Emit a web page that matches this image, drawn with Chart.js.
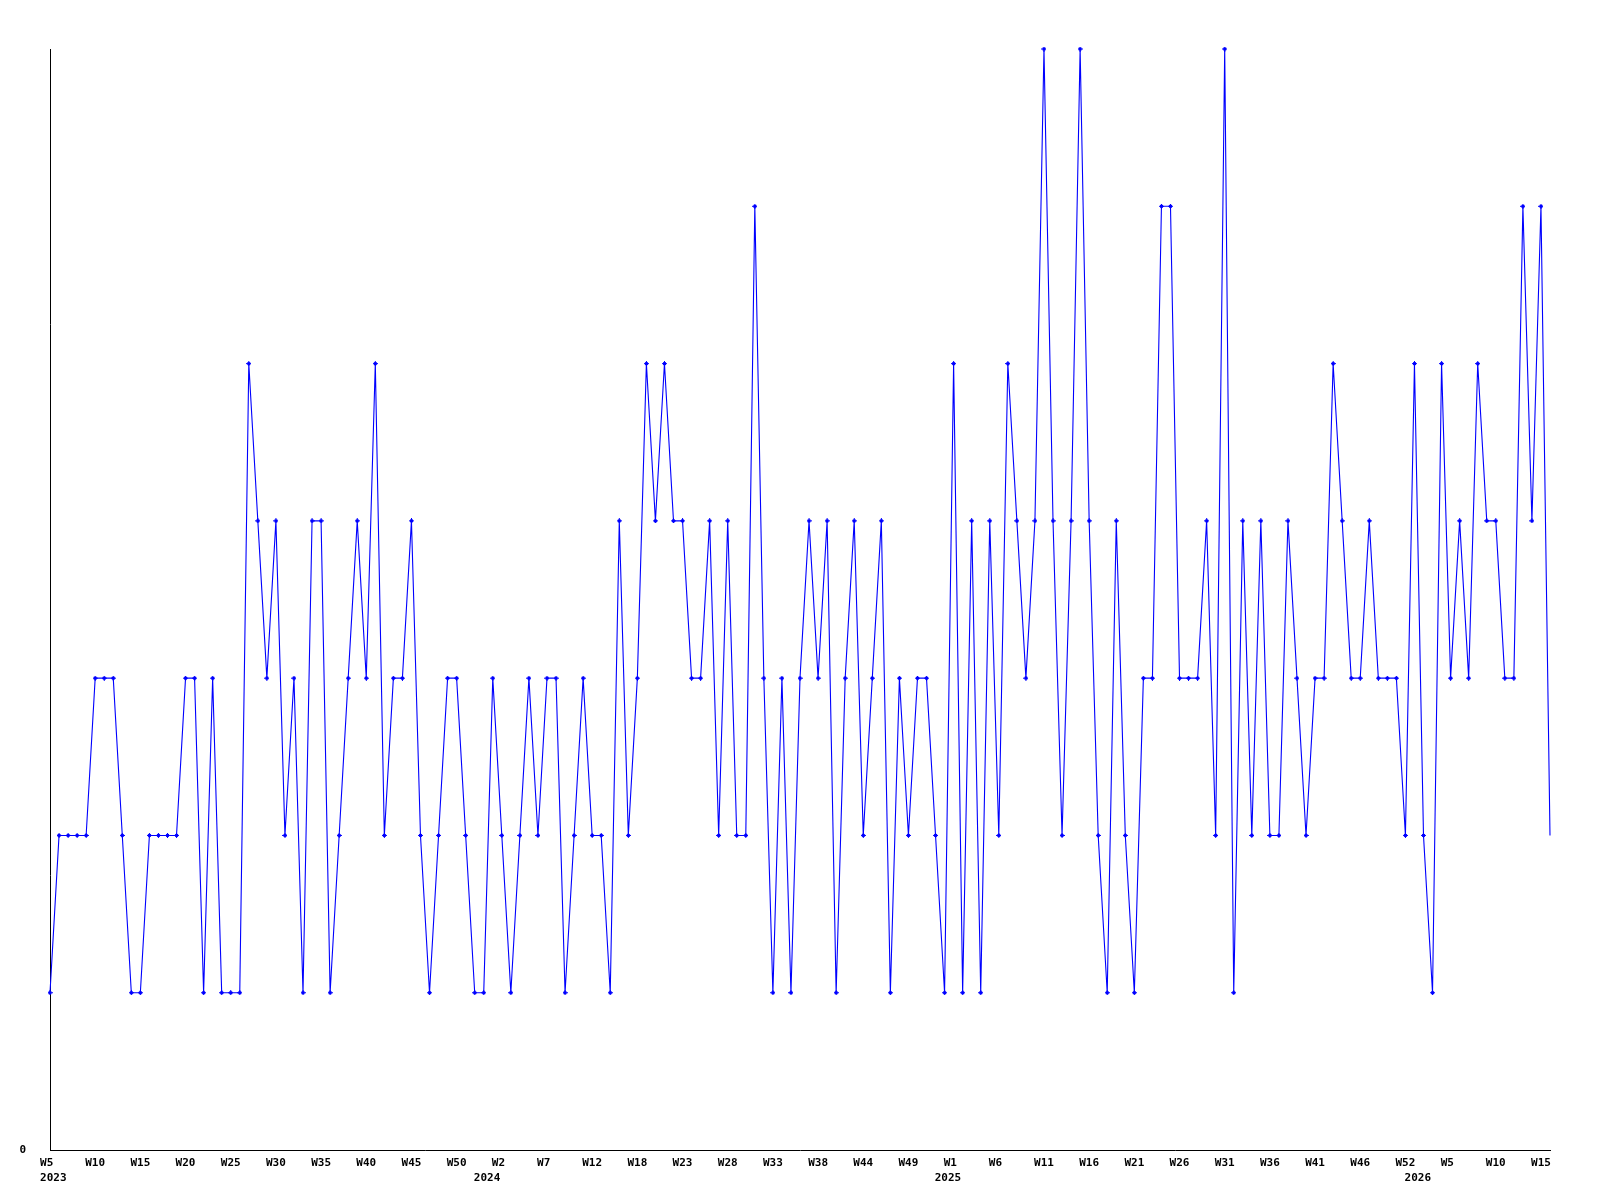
<!DOCTYPE html>
<html>
<head>
<meta charset="utf-8">
<script src="https://cdn.jsdelivr.net/npm/chart.js@4.4.1/dist/chart.umd.min.js"></script>
<style>
  html, body { margin: 0; padding: 0; background: #ffffff; }
  #wrap { width: 1600px; height: 1200px; position: relative; }
</style>
</head>
<body>
<div id="wrap"><canvas id="chart"></canvas></div>
<script>
// Weekly series, 2023 W5 .. 2026 W16 (one value per week)
const values = [
  1,2,2,2,2,3,3,3,2,1,
  1,2,2,2,2,3,3,1,3,1,
  1,1,5,4,3,4,2,3,1,4,
  4,1,2,3,4,3,5,2,3,3,
  4,2,1,2,3,3,2,1,1,3,
  2,1,2,3,2,3,3,1,2,3,
  2,2,1,4,2,3,5,4,5,4,
  4,3,3,4,2,4,2,2,6,3,
  1,3,1,3,4,3,4,1,3,4,
  2,3,4,1,3,2,3,3,2,1,
  5,1,4,1,4,2,5,4,3,4,
  7,4,2,4,7,4,2,1,4,2,
  1,3,3,6,6,3,3,3,4,2,
  7,1,4,2,4,2,2,4,3,2,
  3,3,5,4,3,3,4,3,3,3,
  2,5,2,1,5,3,4,3,5,4,
  4,3,3,6,4,6,2
];

// Week tick labels, one every 5 points starting at the first point
const weekTickLabels = [
  'W5','W10','W15','W20','W25','W30','W35','W40','W45','W50',
  'W2','W7','W12','W18','W23','W28','W33','W38','W44','W49',
  'W1','W6','W11','W16','W21','W26','W31','W36','W41','W46','W52',
  'W5','W10','W15'
];
const weekTickStep = 5;

// Year labels and the point index where each year starts
const yearLabels = ['2023', '2024', '2025', '2026'];
const yearStartIndex = [0, 48, 99, 151];

const yMin = 0;
const yMax = 7;
const yTickLabels = ['0'];

// ---- build tick list ----
const weekTickIndex = weekTickLabels.map((_, k) => k * weekTickStep);
const xTickValues = Array.from(new Set(weekTickIndex.concat(yearStartIndex))).sort((a, b) => a - b);

function xLabelFor(v) {
  const wk = weekTickIndex.indexOf(v);
  const yr = yearStartIndex.indexOf(v);
  let wline = '';
  if (wk >= 0) {
    wline = weekTickLabels[wk];
    while (wline.length < 3) wline += ' ';
  }
  if (yr >= 0) return [wline, ' ' + yearLabels[yr]];
  return wline;
}

// ---- point marker ----
const marker = document.createElement('canvas');
marker.width = 5; marker.height = 5;
(function () {
  const g = marker.getContext('2d');
  g.fillStyle = '#0000ff';
  g.fillRect(2, 0, 1, 5);
  g.fillRect(0, 2, 5, 1);
  g.fillRect(1, 1, 3, 3);
})();

const tickFont = { family: 'DejaVu Sans Mono', size: 11, weight: 'bold', lineHeight: 15.5 / 11 };

new Chart(document.getElementById('chart'), {
  type: 'line',
  data: {
    datasets: [{
      data: values.map((v, i) => ({ x: i, y: v })),
      borderColor: '#0000ff',
      backgroundColor: '#0000ff',
      borderWidth: 1.1,
      tension: 0,
      fill: false,
      clip: false,
      pointStyle: marker,
      pointRadius: ctx => (ctx.dataIndex === values.length - 1 ? 0 : 3),
      pointHoverRadius: ctx => (ctx.dataIndex === values.length - 1 ? 0 : 3)
    }]
  },
  options: {
    responsive: true,
    maintainAspectRatio: false,
    animation: false,
    events: [],
    layout: { padding: { top: 49, right: 50, left: 0, bottom: 0 } },
    plugins: { legend: { display: false }, tooltip: { enabled: false } },
    scales: {
      x: {
        type: 'linear',
        min: 0,
        max: values.length - 1,
        grid: { display: false, drawTicks: false },
        border: { display: true, color: '#000000', width: 1 },
        ticks: {
          autoSkip: false,
          maxRotation: 0,
          minRotation: 0,
          padding: 5,
          color: '#000000',
          font: tickFont,
          callback: (v) => xLabelFor(v)
        },
        afterBuildTicks: (s) => { s.ticks = xTickValues.map(v => ({ value: v })); },
        afterFit: (s) => { s.height = 50; }
      },
      y: {
        min: yMin,
        max: yMax,
        grid: { display: false, drawTicks: false },
        border: { display: true, color: '#000000', width: 1 },
        ticks: {
          padding: 24,
          color: '#000000',
          font: tickFont,
          callback: (v, i) => yTickLabels[i] !== undefined ? yTickLabels[i] : ''
        },
        afterBuildTicks: (s) => { s.ticks = [{ value: yMin }]; },
        afterFit: (s) => { s.width = 50; }
      }
    }
  }
});
</script>
</body>
</html>
